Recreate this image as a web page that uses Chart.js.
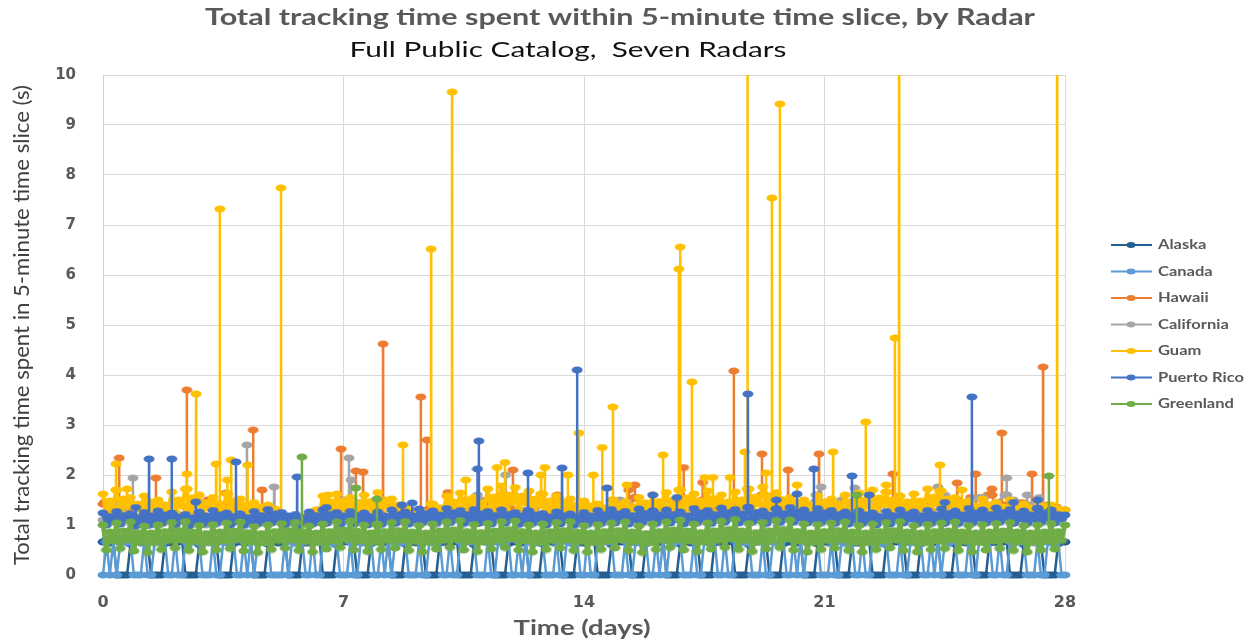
<!DOCTYPE html>
<html><head><meta charset="utf-8">
<script src="https://cdn.jsdelivr.net/npm/chart.js@4.4.1/dist/chart.umd.min.js"></script>
<style>html,body{margin:0;padding:0;background:#fff;}#wrap{width:1256px;height:643px;}</style>
</head><body><div id="wrap"><canvas id="c" width="1256" height="643"></canvas></div>
<script>
// ---------- chart text ----------
const chartTitle = 'Total tracking time spent within 5-minute time slice, by Radar';
const chartSubtitle = 'Full Public Catalog,  Seven Radars';
const yAxisTitle = 'Total tracking time spent in 5-minute time slice (s)';
const xAxisTitle = 'Time (days)';
const seriesNames = ['Alaska','Canada','Hawaii','California','Guam','Puerto Rico','Greenland'];
const seriesColors = ['#255E91','#5B9BD5','#ED7D31','#A5A5A5','#FFC000','#4472C4','#70AD47'];
const xTickValues = [0,7,14,21,28];
const yTickValues = [0,1,2,3,4,5,6,7,8,9,10];

// ---------- time grids (days) ----------
const fineStep = 0.1;    // sample spacing of the dense series
const coarseStep = 0.25; // sample spacing of the sparse series

// ---------- series values (seconds) ----------
const alaskaBase = [
0.66,0.70,0.64,0.68,0,0,0,0,0.62,0.67,
0.68,0.65,0.71,0.66,0,0,0,0,0.63,0.69,
0.64,0.69,0.66,0.70,0,0,0,0,0.61,0.66,
0.67,0.66,0.72,0.65,0,0,0,0,0.63,0.68,
0.66,0.71,0.65,0.69,0,0,0,0,0.62,0.66,
0.69,0.64,0.68,0.66,0,0,0,0,0.64,0.65,
0.65,0.68,0.66,0.71,0,0,0,0,0.61,0.67,
0.68,0.66,0.70,0.64,0,0,0,0,0.63,0.66,
0.66,0.72,0.65,0.68,0,0,0,0,0.62,0.68,
0.67,0.64,0.71,0.66,0,0,0,0,0.64,0.66,
0.65,0.69,0.66,0.72,0,0,0,0,0.61,0.67,
0.68,0.66,0.68,0.65,0,0,0,0,0.63,0.66,
0.66,0.71,0.64,0.69,0,0,0,0,0.62,0.68,
0.69,0.65,0.72,0.66,0,0,0,0,0.64,0.65,
0.64,0.68,0.66,0.68,0,0,0,0,0.61,0.66,
0.67,0.66,0.70,0.64,0,0,0,0,0.63,0.67,
0.66,0.72,0.65,0.71,0,0,0,0,0.62,0.66,
0.68,0.64,0.68,0.66,0,0,0,0,0.64,0.68,
0.65,0.69,0.66,0.69,0,0,0,0,0.61,0.66,
0.67,0.66,0.71,0.65,0,0,0,0,0.63,0.67,
0.66,0.68,0.64,0.72,0,0,0,0,0.62,0.66,
0.69,0.65,0.69,0.66,0,0,0,0,0.64,0.65,
0.64,0.71,0.66,0.68,0,0,0,0,0.61,0.68,
0.67,0.66,0.72,0.64,0,0,0,0,0.63,0.66,
0.66,0.69,0.65,0.71,0,0,0,0,0.62,0.67,
0.68,0.64,0.68,0.66,0,0,0,0,0.64,0.66,
0.65,0.72,0.66,0.69,0,0,0,0,0.61,0.68,
0.67,0.66,0.70,0.65,0,0,0,0,0.63,0.66,
0.66];
const canadaBase = [
0,0.66,0,0.70,0,0.64,0.68,0.65,0.70,0,
0,0,0.68,0,0,0.65,0.69,0.64,0.71,0,
0,0.71,0,0,0.67,0.63,0.68,0.70,0.65,0,
0,0,0.69,0,0,0.66,0.64,0.67,0.70,0,
0,0.67,0,0.72,0,0.64,0.69,0.66,0.71,0,
0,0,0,0.69,0,0.67,0.63,0.68,0.66,0,
0,0.71,0,0,0.68,0.64,0.67,0.63,0.70,0,
0,0,0.66,0,0,0.65,0.64,0.69,0.71,0,
0,0.69,0,0.70,0,0.63,0.67,0.64,0.68,0,
0,0,0.68,0,0,0.67,0.65,0.63,0.71,0,
0,0.71,0,0,0.67,0.64,0.68,0.66,0.69,0,
0,0,0.70,0,0,0.66,0.64,0.68,0.71,0,
0,0.67,0,0.71,0,0.63,0.66,0.64,0.68,0,
0,0,0.69,0,0,0.67,0.64,0.62,0.71,0,
0,0.71,0,0,0.66,0.65,0.69,0.66,0.70,0,
0,0,0.68,0,0,0.64,0.67,0.63,0.71,0,
0,0.69,0,0.70,0,0.66,0.63,0.68,0.69,0,
0,0,0.67,0,0,0.68,0.64,0.66,0.71,0,
0,0.71,0,0,0.69,0.63,0.68,0.64,0.68,0,
0,0,0.68,0,0,0.66,0.65,0.63,0.71,0,
0,0.70,0,0.72,0,0.64,0.69,0.67,0.70,0,
0,0,0.67,0,0,0.66,0.63,0.68,0.71,0,
0,0.71,0,0,0.68,0.67,0.64,0.62,0.69,0,
0,0,0.69,0,0,0.64,0.67,0.66,0.71,0,
0,0.68,0,0.70,0,0.65,0.63,0.68,0.68,0,
0,0,0.70,0,0,0.68,0.66,0.64,0.71,0,
0,0.71,0,0,0.67,0.63,0.68,0.66,0.70,0,
0,0,0.68,0,0,0.66,0.64,0.63,0.71,0,
0];
const hawaiiBase = [
1.42,1.25,1.10,1.30, 1.15,1.30,1.20,1.05, 1.25,1.10,1.35,1.20, 1.45,1.20,1.30,1.10,
1.20,1.35,1.25,1.10, 1.10,1.00,1.15,1.05, 1.20,1.30,1.45,1.25, 1.35,1.20,1.40,1.30,
1.25,1.40,1.20,1.30, 1.20,1.10,1.30,1.15, 1.30,1.20,1.10,1.25, 1.35,1.45,1.30,1.50,
1.30,1.25,1.40,1.20, 1.25,1.55,1.30,1.20, 1.20,1.15,1.30,1.25, 1.40,1.30,1.55,1.30,
1.25,1.35,1.20,1.40, 1.45,1.30,1.50,1.35, 1.30,1.40,1.25,1.50, 1.45,1.60,1.35,1.50,
1.30,1.45,1.40,1.35, 1.25,1.40,1.30,1.20, 1.30,1.20,1.35,1.45, 1.40,1.30,1.25,1.35,
1.30,1.45,1.35,1.50, 1.40,1.55,1.30,1.60, 1.35,1.40,1.30,1.45, 1.30,1.25,1.40,1.36,
1.30];
const californiaBase = [
1.10,1.30,1.45,1.20, 1.05,1.15,1.00,1.10, 1.10,1.20,1.05,1.15, 1.00,1.10,1.20,1.05,
1.30,1.15,1.25,1.35, 1.10,1.00,1.05,1.10, 1.15,1.25,1.40,1.30, 1.50,1.35,1.45,1.30,
1.20,1.10,1.15,1.05, 1.10,1.05,1.15,1.10, 1.20,1.10,1.25,1.45, 1.50,1.30,1.45,1.25,
1.20,1.30,1.15,1.40, 1.30,1.20,1.35,1.10, 1.15,1.25,1.10,1.20, 1.30,1.45,1.20,1.15,
1.20,1.35,1.30,1.10, 1.25,1.40,1.30,1.20, 1.15,1.30,1.20,1.45, 1.50,1.35,1.45,1.30,
1.25,1.40,1.35,1.60, 1.45,1.30,1.50,1.35, 1.20,1.45,1.30,1.50, 1.35,1.20,1.30,1.25,
1.40,1.55,1.60,1.45, 1.30,1.50,1.55,1.40, 1.45,1.60,1.50,1.30, 1.40,1.55,1.30,1.25,
1.30];
const guamBase = [
1.62,1.22,1.48,1.34, 1.70,1.25,1.52,1.38, 1.55,1.20,1.42,1.32, 1.58,1.24,1.46,1.35, 1.50,1.18,1.40,1.30,
1.66,1.26,1.50,1.38, 1.72,1.28,1.54,1.40, 1.60,1.22,1.45,1.34, 1.55,1.20,1.42,1.32, 1.62,1.24,1.48,1.36,
1.52,1.20,1.40,1.30, 1.45,1.18,1.36,1.28, 1.40,1.15,1.32,1.25, 1.20,1.05,1.15,1.10, 1.12,1.02,1.08,1.05,
1.15,1.05,1.30,1.20, 1.58,1.24,1.46,1.35, 1.62,1.25,1.48,1.36, 1.55,1.22,1.44,1.33, 1.60,1.24,1.47,1.35,
1.65,1.26,1.50,1.38, 1.52,1.20,1.40,1.30, 1.35,1.12,1.28,1.20, 1.30,1.10,1.25,1.18, 1.42,1.16,1.34,1.26,
1.58,1.24,1.46,1.35, 1.64,1.26,1.50,1.38, 1.55,1.22,1.44,1.33, 1.72,1.30,1.56,1.42, 1.78,1.32,1.60,1.45,
1.75,1.30,1.58,1.44, 1.68,1.28,1.52,1.40, 1.62,1.25,1.48,1.36, 1.58,1.24,1.46,1.35, 1.52,1.20,1.40,1.30,
1.48,1.18,1.38,1.28, 1.42,1.16,1.34,1.26, 1.50,1.20,1.40,1.30, 1.46,1.18,1.37,1.28, 1.55,1.22,1.44,1.33,
1.60,1.24,1.47,1.35, 1.65,1.26,1.50,1.38, 1.70,1.28,1.54,1.40, 1.62,1.25,1.48,1.36, 1.68,1.28,1.52,1.40,
1.60,1.24,1.46,1.35, 1.66,1.26,1.50,1.38, 1.72,1.30,1.56,1.42, 1.76,1.32,1.58,1.44, 1.65,1.26,1.50,1.38,
1.55,1.22,1.44,1.33, 1.50,1.20,1.40,1.30, 1.58,1.24,1.46,1.35, 1.52,1.20,1.42,1.31, 1.60,1.24,1.47,1.35,
1.64,1.26,1.50,1.37, 1.70,1.28,1.54,1.40, 1.66,1.26,1.50,1.38, 1.58,1.24,1.46,1.35, 1.62,1.25,1.48,1.36,
1.72,1.30,1.56,1.42, 1.68,1.28,1.52,1.40, 1.55,1.22,1.44,1.33, 1.48,1.18,1.38,1.28, 1.52,1.20,1.40,1.30,
1.45,1.18,1.36,1.27, 1.50,1.20,1.40,1.30, 1.42,1.16,1.34,1.26, 1.48,1.18,1.38,1.28, 1.40,1.15,1.32,1.25,
1.30];
const puertoRicoBase = [
1.24,1.00,1.17,1.08, 1.27,1.02,1.19,1.10, 1.22,0.99,1.15,1.07, 1.25,1.01,1.18,1.09, 1.28,1.03,1.20,1.11,
1.23,1.00,1.16,1.08, 1.21,0.98,1.14,1.06, 1.26,1.02,1.18,1.10, 1.29,1.03,1.20,1.11, 1.24,1.00,1.17,1.08,
1.22,0.99,1.15,1.07, 1.27,1.02,1.19,1.10, 1.31,1.04,1.22,1.12, 1.25,1.01,1.18,1.09, 1.21,0.99,1.15,1.07,
1.26,1.02,1.19,1.10, 1.30,1.04,1.21,1.12, 1.25,1.01,1.18,1.09, 1.27,1.02,1.19,1.10, 1.24,1.00,1.17,1.08,
1.26,1.01,1.18,1.09, 1.30,1.03,1.21,1.11, 1.26,1.02,1.18,1.10, 1.32,1.05,1.23,1.13, 1.28,1.03,1.20,1.11,
1.33,1.05,1.24,1.13, 1.29,1.03,1.21,1.11, 1.31,1.04,1.22,1.12, 1.27,1.02,1.19,1.10, 1.30,1.04,1.21,1.12,
1.25,1.01,1.18,1.09, 1.28,1.03,1.20,1.11, 1.23,1.00,1.16,1.08, 1.26,1.02,1.18,1.10, 1.22,0.99,1.15,1.07,
1.25,1.01,1.18,1.09, 1.29,1.03,1.21,1.11, 1.31,1.04,1.22,1.12, 1.27,1.02,1.19,1.10, 1.32,1.05,1.23,1.13,
1.28,1.03,1.20,1.11, 1.30,1.04,1.21,1.12, 1.26,1.02,1.18,1.10, 1.33,1.05,1.24,1.13, 1.29,1.03,1.21,1.11,
1.34,1.06,1.25,1.14, 1.31,1.04,1.22,1.12, 1.35,1.06,1.25,1.14, 1.28,1.03,1.20,1.11, 1.32,1.05,1.23,1.13,
1.35,1.06,1.25,1.14, 1.30,1.04,1.21,1.12, 1.33,1.05,1.24,1.13, 1.29,1.03,1.21,1.11, 1.26,1.02,1.18,1.10,
1.28,1.03,1.20,1.11, 1.24,1.00,1.17,1.08, 1.27,1.02,1.19,1.10, 1.30,1.04,1.21,1.12, 1.26,1.02,1.18,1.10,
1.29,1.03,1.21,1.11, 1.32,1.05,1.23,1.13, 1.28,1.03,1.20,1.11, 1.33,1.05,1.24,1.13, 1.30,1.04,1.21,1.12,
1.34,1.06,1.25,1.14, 1.31,1.04,1.22,1.12, 1.28,1.03,1.20,1.11, 1.33,1.05,1.24,1.13, 1.30,1.04,1.21,1.12,
1.20];
const greenlandBase = [
1.00,0.50,0.86,0.68, 1.04,0.53,0.88,0.70, 1.06,0.48,0.85,0.66, 0.98,0.45,0.84,0.65, 1.00,0.51,0.87,0.69,
1.05,0.54,0.89,0.70, 1.07,0.49,0.86,0.67, 0.99,0.46,0.83,0.65, 1.01,0.50,0.86,0.68, 1.04,0.53,0.88,0.71,
1.06,0.48,0.85,0.66, 0.97,0.45,0.83,0.64, 1.00,0.51,0.87,0.69, 1.03,0.54,0.89,0.70, 1.05,0.49,0.86,0.67,
0.98,0.46,0.84,0.65, 1.02,0.52,0.87,0.68, 1.06,0.55,0.90,0.71, 1.08,0.50,0.87,0.68, 1.00,0.47,0.84,0.66,
1.01,0.51,0.87,0.69, 1.05,0.54,0.89,0.70, 1.07,0.49,0.86,0.67, 0.99,0.46,0.84,0.65, 1.02,0.52,0.88,0.69,
1.06,0.55,0.90,0.71, 1.09,0.50,0.87,0.68, 1.01,0.47,0.85,0.66, 1.03,0.52,0.88,0.69, 1.07,0.55,0.91,0.72,
1.08,0.50,0.87,0.68, 1.00,0.46,0.84,0.65, 1.02,0.51,0.87,0.69, 1.05,0.54,0.89,0.70, 1.07,0.49,0.86,0.67,
0.99,0.46,0.84,0.65, 1.01,0.51,0.87,0.68, 1.04,0.54,0.89,0.70, 1.06,0.49,0.86,0.67, 0.98,0.45,0.83,0.64,
1.02,0.51,0.87,0.69, 1.06,0.55,0.90,0.71, 1.10,0.50,0.88,0.68, 1.02,0.47,0.85,0.66, 1.04,0.52,0.88,0.69,
1.08,0.55,0.91,0.72, 1.11,0.51,0.88,0.69, 1.03,0.47,0.85,0.66, 1.05,0.52,0.88,0.69, 1.09,0.55,0.91,0.72,
1.10,0.50,0.87,0.68, 1.02,0.46,0.84,0.65, 1.01,0.51,0.87,0.69, 1.04,0.54,0.89,0.70, 1.06,0.49,0.86,0.67,
0.99,0.46,0.84,0.65, 1.02,0.51,0.87,0.68, 1.05,0.54,0.89,0.70, 1.07,0.49,0.86,0.67, 0.99,0.46,0.84,0.65,
1.01,0.51,0.87,0.68, 1.04,0.53,0.88,0.70, 1.06,0.49,0.86,0.67, 0.99,0.46,0.84,0.65, 1.01,0.50,0.86,0.68,
1.03,0.53,0.88,0.70, 1.05,0.49,0.86,0.67, 0.99,0.46,0.84,0.65, 1.00,0.50,0.86,0.68, 1.03,0.52,0.87,0.69,
1.00];

// isolated peaks: [day, seconds]
const alaskaSpikes = [];
const canadaSpikes = [];
const hawaiiSpikes = [[0.05,1.46],[0.47,2.34],[1.54,1.94],[2.44,3.70],[3.05,1.50],[3.58,1.64],[4.37,2.90],[4.63,1.70],[6.93,2.52],[7.36,2.08],[7.57,2.06],[8.15,4.62],[9.25,3.56],[9.43,2.70],[10.04,1.65],[11.93,2.10],[13.22,1.60],[15.30,1.70],[15.48,1.80],[16.90,2.15],[17.45,1.85],[18.36,4.08],[19.18,2.42],[19.94,2.10],[20.84,2.42],[22.99,2.02],[24.86,1.84],[25.40,2.02],[25.87,1.72],[26.16,2.84],[27.04,2.02],[27.36,4.16]];
const californiaSpikes = [[0.87,1.94],[4.19,2.60],[4.98,1.76],[7.16,2.34],[7.22,1.90],[10.90,1.60],[11.72,2.00],[13.00,1.40],[15.05,1.50],[20.90,1.76],[21.88,1.74],[24.30,1.76],[25.60,1.50],[26.30,1.94],[26.90,1.60]];
const guamSpikes = [[0.38,2.22],[0.70,1.72],[2.44,2.02],[2.71,3.62],[3.29,2.22],[3.40,7.32],[3.62,1.90],[3.73,2.30],[4.21,2.20],[5.18,7.74],[6.55,1.60],[8.73,2.60],[9.55,6.52],[10.16,9.66],[10.56,1.90],[11.47,2.15],[11.70,2.25],[12.75,2.00],[12.86,2.15],[13.53,2.00],[13.85,2.84],[14.27,2.00],[14.53,2.55],[14.84,3.36],[15.25,1.80],[16.30,2.40],[16.76,6.12],[16.80,6.56],[17.14,3.86],[17.52,1.95],[17.75,1.95],[18.25,1.95],[18.68,2.46],[18.76,12],[19.30,2.04],[19.47,7.54],[19.70,9.42],[20.20,1.80],[21.25,2.46],[22.20,3.06],[22.80,1.80],[23.05,4.74],[23.17,12],[24.36,2.20],[25.00,1.70],[27.77,12]];
const puertoRicoSpikes = [[0.95,1.35],[1.34,2.32],[2.00,2.32],[2.70,1.46],[3.87,2.26],[5.65,1.96],[6.50,1.35],[8.70,1.40],[9.00,1.44],[10.90,2.12],[10.94,2.68],[12.37,2.04],[13.36,2.14],[13.80,4.10],[14.67,1.74],[16.00,1.60],[16.70,1.55],[18.77,3.62],[19.60,1.50],[20.20,1.62],[20.69,2.12],[21.80,1.98],[22.30,1.60],[24.50,1.45],[25.29,3.56],[26.50,1.45],[27.20,1.50]];
const greenlandSpikes = [[5.79,2.36],[7.36,1.74],[7.97,1.52],[21.94,1.60],[27.53,1.98]];

// ---------- assemble ----------
function buildSeries(base, step, spikes) {
  const pts = base.map((v, i) => ({x: Math.round(i * step * 1000) / 1000, y: v}));
  spikes.forEach(([d, v]) => {
    const b = base[Math.min(base.length - 1, Math.round(d / step))];
    pts.push({x: d - 0.004, y: b}, {x: d, y: v}, {x: d + 0.004, y: b});
  });
  pts.sort((a, b) => a.x - b.x);
  return pts;
}
function makeMarker(color, w, h) {
  const c = document.createElement('canvas');
  c.width = w; c.height = h;
  const g = c.getContext('2d');
  g.fillStyle = color;
  g.beginPath();
  g.ellipse(w / 2, h / 2, w / 2 - 0.5, h / 2 - 0.5, 0, 0, Math.PI * 2);
  g.fill();
  return c;
}
// [values, spacing, peaks, width of the dense trace]
const seriesDefs = [
  [alaskaBase, fineStep, alaskaSpikes, 2.5],
  [canadaBase, fineStep, canadaSpikes, 2.5],
  [hawaiiBase, coarseStep, hawaiiSpikes, 2.5],
  [californiaBase, coarseStep, californiaSpikes, 2.5],
  [guamBase, fineStep, guamSpikes, 4],
  [puertoRicoBase, fineStep, puertoRicoSpikes, 4],
  [greenlandBase, fineStep, greenlandSpikes, 4.5]
];
const datasets = seriesDefs.map((d, i) => ({
  label: seriesNames[i],
  data: buildSeries(d[0], d[1], d[2]),
  borderColor: seriesColors[i],
  backgroundColor: seriesColors[i],
  borderWidth: 2.5,
  borderJoinStyle: 'round',
  segment: {
    borderWidth: (c) => (Math.abs(c.p1.parsed.x - c.p0.parsed.x) < 0.01 ? 2.5 : d[3])
  },
  pointStyle: makeMarker(seriesColors[i], 12, 8),
  pointRadius: 4,
  pointHoverRadius: 4,
  tension: 0,
  fill: false,
  order: seriesNames.length - 1 - i,
  clip: {left: 6, right: 6, top: 0, bottom: 6}
}));

function fitText(ctx, text, x, y, targetW, font, color, align, rot) {
  ctx.save();
  ctx.font = font;
  ctx.fillStyle = color;
  ctx.textBaseline = 'middle';
  ctx.textAlign = align;
  const s = targetW / ctx.measureText(text).width;
  ctx.translate(x, y);
  if (rot) ctx.rotate(rot);
  ctx.scale(s, 1);
  ctx.fillText(text, 0, 0);
  ctx.restore();
}

const decorPlugin = {
  id: 'decor',
  afterDraw(chart) {
    const ctx = chart.ctx;
    fitText(ctx, chartTitle, 620, 18, 830, 'bold 22px Lato', '#595959', 'center');
    fitText(ctx, chartSubtitle, 568, 50, 437, '22px Lato', '#111111', 'center');
    fitText(ctx, yAxisTitle, 22, 325, 480, '22px Lato', '#404040', 'center', -Math.PI / 2);
    fitText(ctx, xAxisTitle, 582, 629, 137, 'bold 20px Lato', '#595959', 'center');
    ctx.save();
    ctx.font = 'bold 13px Lato';
    const legScale = 86 / ctx.measureText('Puerto Rico').width;
    ctx.restore();
    seriesNames.forEach((name, i) => {
      const y = 245 + i * 26.5;
      ctx.save();
      ctx.strokeStyle = seriesColors[i];
      ctx.lineWidth = 2;
      ctx.beginPath(); ctx.moveTo(1111, y); ctx.lineTo(1152, y); ctx.stroke();
      ctx.fillStyle = seriesColors[i];
      ctx.beginPath(); ctx.ellipse(1131, y, 4.5, 3, 0, 0, Math.PI * 2); ctx.fill();
      ctx.font = 'bold 13px Lato';
      const w = ctx.measureText(name).width * legScale;
      ctx.restore();
      fitText(ctx, name, 1158, y, w, 'bold 13px Lato', '#595959', 'left');
    });
  }
};

new Chart(document.getElementById('c'), {
  type: 'line',
  data: {datasets},
  options: {
    responsive: false,
    animation: false,
    events: [],
    layout: {padding: {top: 75, right: 191, bottom: 0, left: 0}},
    plugins: {legend: {display: false}, title: {display: false}, tooltip: {enabled: false}},
    scales: {
      x: {
        type: 'linear', min: 0, max: 28,
        afterBuildTicks: (ax) => { ax.ticks = xTickValues.map(v => ({value: v})); },
        afterFit: (ax) => { ax.height = 68; },
        grid: {color: '#d9d9d9', lineWidth: 1, drawTicks: false},
        border: {display: false},
        ticks: {padding: 18, color: '#595959', font: {family: 'DejaVu Sans', size: 16, weight: 'bold'}, maxRotation: 0}
      },
      y: {
        type: 'linear', min: 0, max: 10,
        afterBuildTicks: (ax) => { ax.ticks = yTickValues.map(v => ({value: v})); },
        afterFit: (ax) => { ax.width = 103; },
        grid: {color: '#d9d9d9', lineWidth: 1, drawTicks: false},
        border: {display: true, color: '#d0d0d0'},
        ticks: {padding: 27, color: '#595959', font: {family: 'DejaVu Sans', size: 15, weight: 'bold'}}
      }
    }
  },
  plugins: [decorPlugin]
});
</script></body></html>
